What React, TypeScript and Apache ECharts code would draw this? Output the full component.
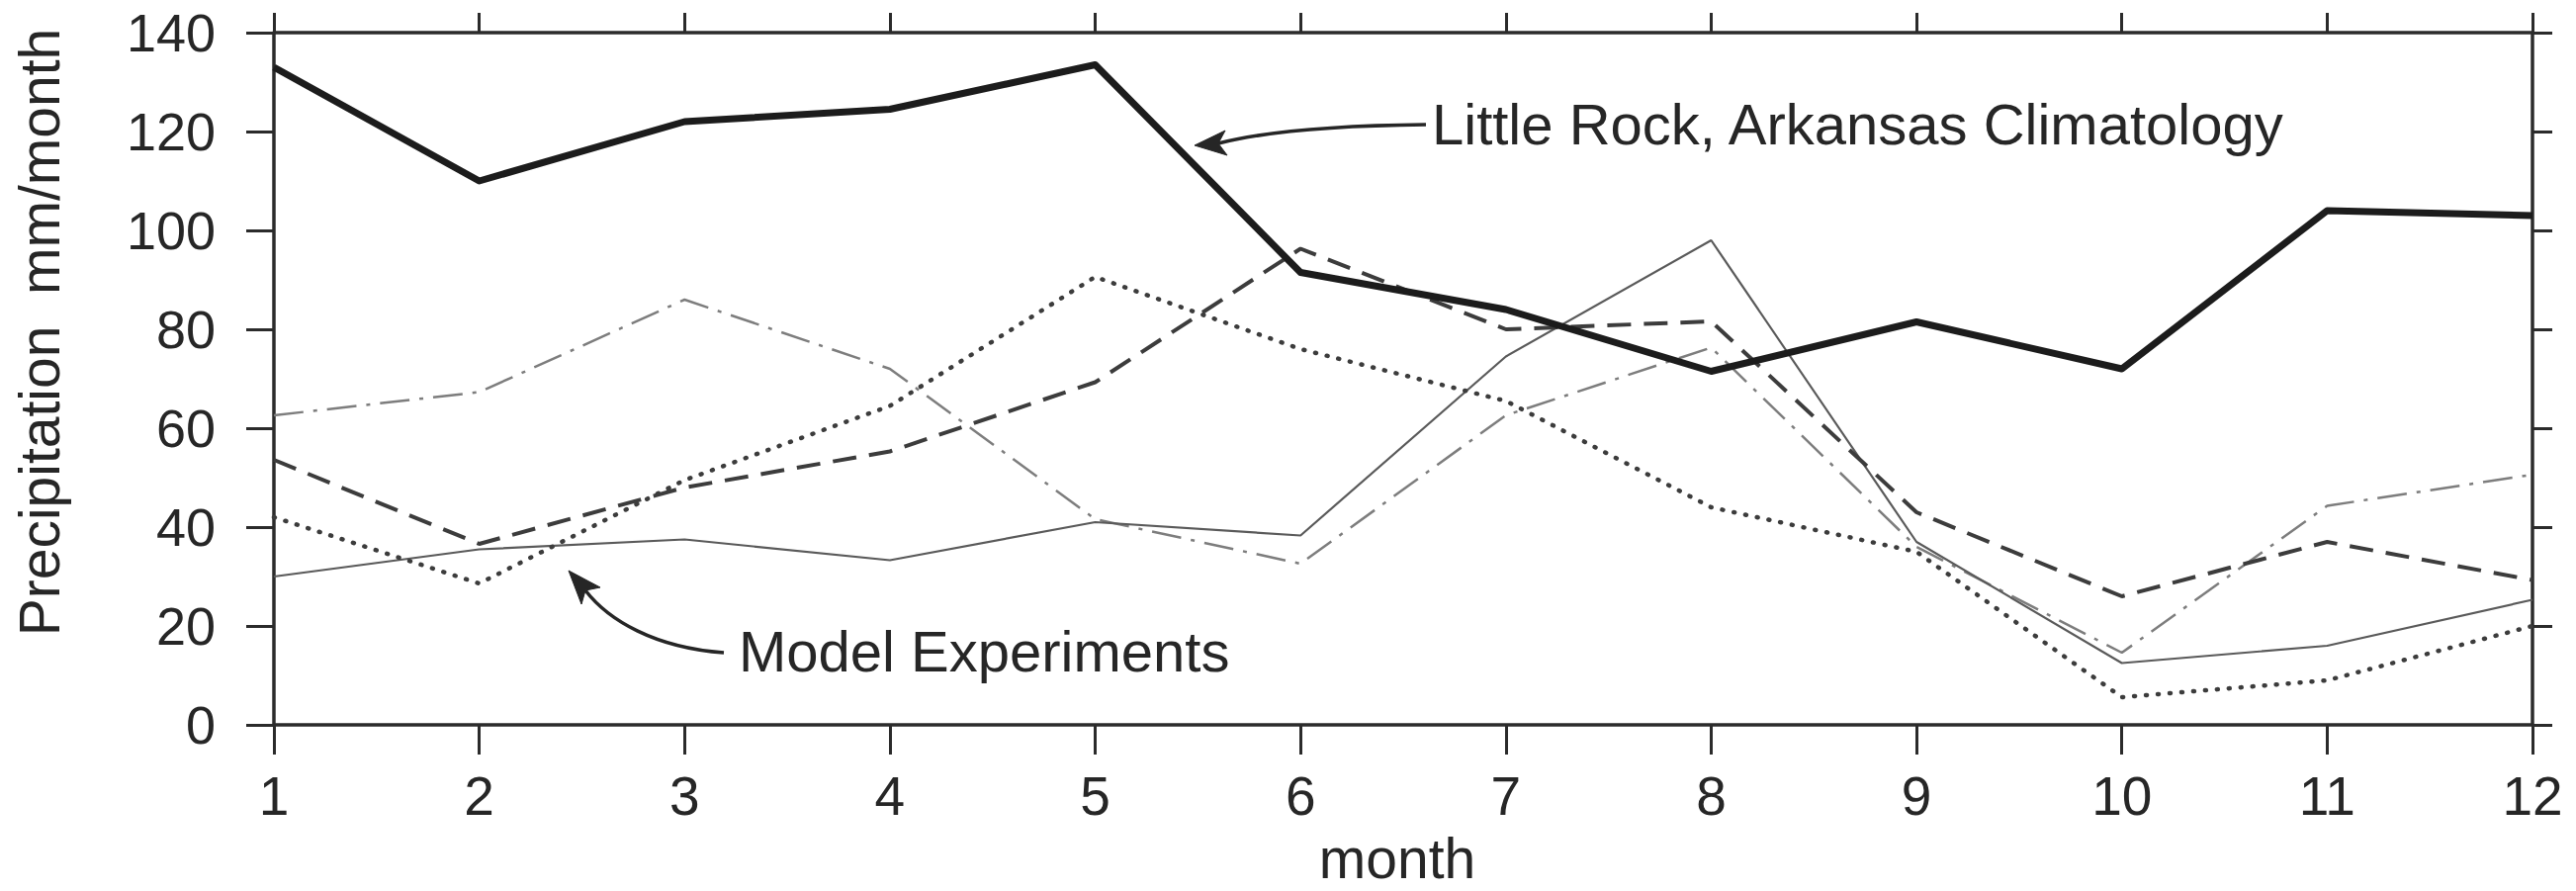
import React, { useEffect, useRef } from 'react';
import * as echarts from 'echarts';

const months = [1, 2, 3, 4, 5, 6, 7, 8, 9, 10, 11, 12];
const littleRock = [133, 110, 122, 124.5, 133.5, 91.5, 84, 71.5, 81.5, 72, 104, 103];
const modelSolid = [30, 35.5, 37.5, 33.3, 41, 38.3, 74.5, 98, 37, 12.5, 16, 25.3];
const modelDotted = [42, 28.6, 49.5, 64.5, 90.6, 76, 65.5, 44, 35, 5.6, 9, 20];
const modelDashed = [53.6, 36.6, 48, 55.3, 69.3, 96.3, 80, 81.6, 43, 26, 37, 29.3];
const modelDashDot = [62.6, 67.3, 86, 72, 41.6, 32.6, 62.6, 76.3, 36, 14.6, 44.3, 50.6];

const yMin = 0;
const yMax = 140;
const yStep = 20;
const xMin = 1;
const xMax = 12;

const FONT = "'Liberation Sans', Arial, Helvetica, sans-serif";
const AX = '#2b2b2b';

const pairs = (vals: number[]) => months.map((m, i) => [m, vals[i]]);

function buildOption() {
  const axisLine = { show: true, onZero: false, lineStyle: { color: AX, width: 3.5 } };
  return {
    animation: false,
    backgroundColor: '#ffffff',
    grid: { left: 277, right: 44, top: 33, bottom: 168, containLabel: false },
    xAxis: [
      {
        type: 'value', position: 'bottom', min: xMin, max: xMax, interval: 1,
        axisLine,
        axisTick: { show: true, length: 30, lineStyle: { color: AX, width: 3 } },
        axisLabel: { show: true, fontSize: 55, margin: 44, color: '#262626', fontFamily: FONT },
        splitLine: { show: false },
      },
      {
        type: 'value', position: 'top', min: xMin, max: xMax, interval: 1,
        axisLine,
        axisTick: { show: true, length: 20, lineStyle: { color: AX, width: 3 } },
        axisLabel: { show: false },
        splitLine: { show: false },
      },
    ],
    yAxis: [
      {
        type: 'value', position: 'left', min: yMin, max: yMax, interval: yStep,
        axisLine,
        axisTick: { show: true, length: 28, lineStyle: { color: AX, width: 3 } },
        axisLabel: { show: true, fontSize: 54, margin: 59, color: '#262626', fontFamily: FONT },
        splitLine: { show: false },
      },
      {
        type: 'value', position: 'right', min: yMin, max: yMax, interval: yStep,
        axisLine,
        axisTick: { show: true, length: 20, lineStyle: { color: AX, width: 3 } },
        axisLabel: { show: false },
        splitLine: { show: false },
      },
    ],
    series: [
      {
        name: 'Model dash-dot', type: 'line', data: pairs(modelDashDot), showSymbol: false, symbol: 'none',
        lineStyle: { color: '#7d7d7d', width: 2.5, type: [30, 10, 4, 10] }, z: 2,
      },
      {
        name: 'Model solid', type: 'line', data: pairs(modelSolid), showSymbol: false, symbol: 'none',
        lineStyle: { color: '#5a5a5a', width: 2.2, type: 'solid' }, z: 3,
      },
      {
        name: 'Model dotted', type: 'line', data: pairs(modelDotted), showSymbol: false, symbol: 'none',
        lineStyle: { color: '#3c3c3c', width: 4.5, type: [1, 11], cap: 'round' }, z: 4,
      },
      {
        name: 'Model dashed', type: 'line', data: pairs(modelDashed), showSymbol: false, symbol: 'none',
        lineStyle: { color: '#3c3c3c', width: 4, type: [24, 13] }, z: 5,
      },
      {
        name: 'Little Rock, Arkansas Climatology', type: 'line', data: pairs(littleRock), showSymbol: false, symbol: 'none',
        lineStyle: { color: '#1c1c1c', width: 7, type: 'solid', join: 'round' }, z: 6,
      },
    ],
    graphic: [
      {
        type: 'text', x: 40, y: 336, rotation: Math.PI / 2,
        style: { text: 'Precipitation  mm/month', font: `57px ${FONT}`, fill: '#262626', align: 'center', verticalAlign: 'middle' },
      },
      {
        type: 'text', x: 1413, y: 868,
        style: { text: 'month', font: `57px ${FONT}`, lineHeight: 58, fill: '#262626', align: 'center', verticalAlign: 'middle' },
      },
      {
        type: 'text', x: 1448, y: 125,
        style: { text: 'Little Rock, Arkansas Climatology', font: `58px ${FONT}`, fill: '#262626', align: 'left', verticalAlign: 'middle' },
      },
      {
        type: 'bezierCurve',
        shape: { x1: 1442, y1: 126, cpx1: 1345, cpy1: 127, cpx2: 1275, cpy2: 134, x2: 1232, y2: 145 },
        style: { stroke: '#262626', lineWidth: 3.5, fill: null },
      },
      {
        type: 'polygon',
        shape: { points: [[1208, 147], [1241, 157], [1232, 145], [1239, 132]] },
        style: { fill: '#262626', stroke: '#262626', lineWidth: 1 },
      },
      {
        type: 'text', x: 747, y: 658,
        style: { text: 'Model Experiments', font: `58px ${FONT}`, fill: '#262626', align: 'left', verticalAlign: 'middle' },
      },
      {
        type: 'bezierCurve',
        shape: { x1: 732, y1: 660, cpx1: 662, cpy1: 655, cpx2: 615, cpy2: 627, x2: 592, y2: 597 },
        style: { stroke: '#262626', lineWidth: 3.5, fill: null },
      },
      {
        type: 'polygon',
        shape: { points: [[575, 577], [607, 594], [592, 597], [588, 611]] },
        style: { fill: '#262626', stroke: '#262626', lineWidth: 1 },
      },
    ],
  };
}

export default function App() {
  const ref = useRef<HTMLDivElement>(null);
  useEffect(() => {
    if (!ref.current) return;
    const chart = echarts.init(ref.current, null, { renderer: 'svg' });
    chart.setOption(buildOption() as any);
    return () => chart.dispose();
  }, []);
  return (
    <div
      ref={ref}
      style={{ position: 'absolute', left: 0, top: 0, width: 2605, height: 901, background: '#ffffff' }}
    />
  );
}
